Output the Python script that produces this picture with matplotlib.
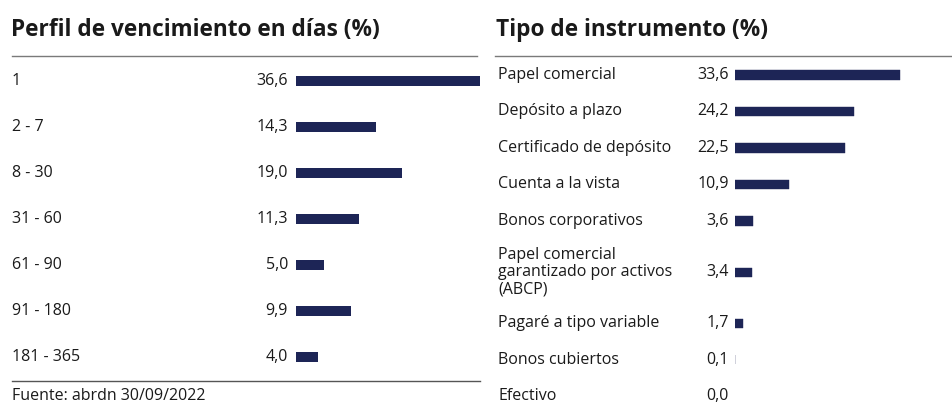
import matplotlib
matplotlib.use('Agg')
import matplotlib.pyplot as plt
import matplotlib.transforms as mtrans

plt.rcParams['font.family'] = ['Open Sans', 'DejaVu Sans']

# left panel: maturity profile
mat_labels = ['1', '2 - 7', '8 - 30', '31 - 60', '61 - 90', '91 - 180', '181 - 365']
mat_values = [36.6, 14.3, 19.0, 11.3, 5.0, 9.9, 4.0]

# right panel: instrument type
inst_labels = ['Papel comercial', 'Depósito a plazo', 'Certificado de depósito',
               'Cuenta a la vista', 'Bonos corporativos',
               'Papel comercial\ngarantizado por activos\n(ABCP)',
               'Pagaré a tipo variable', 'Bonos cubiertos', 'Efectivo']
inst_values = [33.6, 24.2, 22.5, 10.9, 3.6, 3.4, 1.7, 0.1, 0.0]

W, H = 952, 409
navy = '#1d2556'
txt = '#1a1a1a'
fs = 11.5

fig = plt.figure(figsize=(W / 100, H / 100), dpi=100)


def fx(px):
    return px / W


def fy(py):
    return 1 - py / H


def fmt(v):
    return f'{v:.1f}'.replace('.', ',')


# ---- left
ax1 = fig.add_axes([fx(296), fy(381), fx(480 - 296), (381 - 60) / H])
ypos1 = list(range(len(mat_values)))
ax1.barh(ypos1, mat_values, height=0.2, color=navy)
ax1.set_xlim(0, (480 - 296) / 5.58)
ax1.set_ylim(6.52, -0.457)
ax1.axis('off')
tr1 = mtrans.blended_transform_factory(fig.transFigure, ax1.transData)
for y, lab, v in zip(ypos1, mat_labels, mat_values):
    ax1.text(fx(12), y, lab, transform=tr1, ha='left', va='center',
             fontsize=fs, color=txt, clip_on=False)
    ax1.text(fx(288), y, fmt(v), transform=tr1, ha='right', va='center',
             fontsize=fs, color=txt, clip_on=False)

fig.text(fx(11), fy(30), 'Perfil de vencimiento en días (%)', fontsize=16.3,
         fontweight='bold', color=txt, va='center', ha='left')
fig.add_artist(plt.Line2D([fx(12), fx(477)], [fy(56), fy(56)], color='#7a7a7a', lw=1))
fig.add_artist(plt.Line2D([fx(12), fx(480)], [fy(381), fy(381)], color='#555555', lw=1))
fig.text(fx(12), fy(396), 'Fuente: abrdn 30/09/2022', fontsize=fs, color=txt,
         va='center', ha='left')

# ---- right
nlines = [lab.count('\n') + 1 for lab in inst_labels]
ypos2 = [0.0]
for i in range(1, len(inst_labels)):
    gap = 1.0 + 0.2 * (nlines[i - 1] - 1) + 0.2 * (nlines[i] - 1)
    ypos2.append(ypos2[-1] + gap)

ax2 = fig.add_axes([fx(735), 0, fx(W - 735), (H - 60) / H])
ax2.barh(ypos2, inst_values, height=0.25, color=navy, edgecolor=navy,
         linewidth=[0.3 if v > 0 else 0 for v in inst_values])
ax2.set_xlim(0, (W - 735) / 4.91)
ax2.set_ylim(ypos2[-1] + 0.35, -0.41)
ax2.axis('off')
tr2 = mtrans.blended_transform_factory(fig.transFigure, ax2.transData)
for y, lab, v in zip(ypos2, inst_labels, inst_values):
    ax2.text(fx(498), y, lab, transform=tr2, ha='left', va='center',
             fontsize=fs, color=txt, clip_on=False, linespacing=1.1)
    ax2.text(fx(729), y, fmt(v), transform=tr2, ha='right', va='center',
             fontsize=fs, color=txt, clip_on=False)

fig.text(fx(496), fy(30), 'Tipo de instrumento (%)', fontsize=16.3,
         fontweight='bold', color=txt, va='center', ha='left')
fig.add_artist(plt.Line2D([fx(495), fx(W)], [fy(56), fy(56)], color='#7a7a7a', lw=1))

fig.savefig('out.png', dpi=100, facecolor='white')
